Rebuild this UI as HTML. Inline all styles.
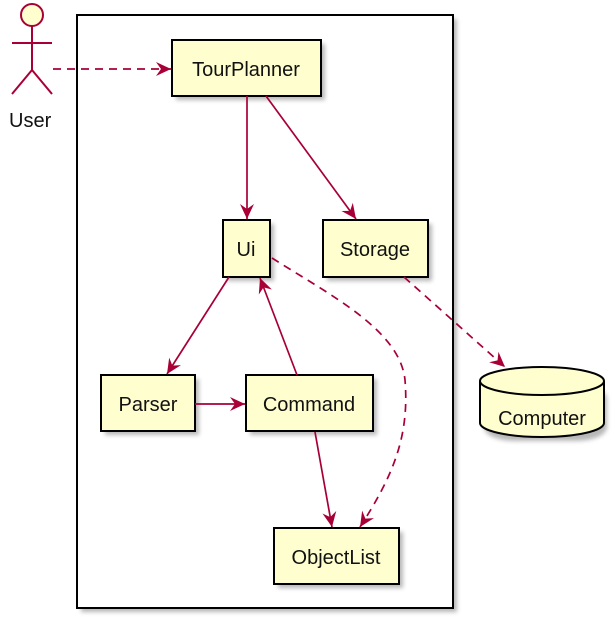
<!DOCTYPE html>
<html><head><meta charset="utf-8"><style>
html,body{margin:0;padding:0;background:#fff;width:613px;height:625px;overflow:hidden}
text{font-family:"Liberation Sans",sans-serif;font-size:20px;fill:#111}
</style></head><body>
<svg width="613" height="625" viewBox="0 0 613 625" xmlns="http://www.w3.org/2000/svg">
<defs>
<filter id="sh" x="-20%" y="-20%" width="150%" height="150%"><feGaussianBlur stdDeviation="2"/></filter>
<marker id="ar" markerWidth="18" markerHeight="16" refX="15" refY="7" orient="auto" markerUnits="userSpaceOnUse">
<path d="M0,0 L15,7 L0,14 L5,7 Z" fill="#A80036"/></marker>
</defs>
<rect x="81" y="19" width="376" height="593" fill="#999" filter="url(#sh)" opacity="0.7"/>
<rect x="77" y="15" width="376" height="593" fill="#fff" stroke="#000" stroke-width="2"/>
<g stroke="#A80036" stroke-width="2" fill="none">
<circle cx="32" cy="15" r="11" fill="#FEFECE"/>
<line x1="32" y1="26" x2="32" y2="70"/>
<line x1="12" y1="43" x2="52" y2="43"/>
<line x1="32" y1="70" x2="12" y2="94"/>
<line x1="32" y1="70" x2="52" y2="94"/>
</g>
<text x="9" y="127">User</text>
<g fill="#FEFECE" stroke="#000" stroke-width="2">
<g fill="#888" stroke="none" opacity="0.6" filter="url(#sh)">
<rect x="176" y="44" width="149" height="56"/><rect x="227" y="224" width="47" height="57"/>
<rect x="327" y="224" width="105" height="57"/><rect x="105" y="379" width="94" height="56"/>
<rect x="250" y="379" width="127" height="56"/><rect x="278" y="532" width="125" height="56"/>
<rect x="484" y="385" width="123" height="56" rx="30" ry="14"/>
</g>
<rect x="172" y="40" width="149" height="56"/>
<rect x="223" y="220" width="47" height="57"/>
<rect x="323" y="220" width="105" height="57"/>
<rect x="101" y="375" width="94" height="56"/>
<rect x="246" y="375" width="127" height="56"/>
<rect x="274" y="528" width="125" height="56"/>
<path d="M480,381 A62,14 0 0 1 604,381 L604,423 A62,14 0 0 1 480,423 Z"/>
<path d="M480,381 A62,14 0 0 0 604,381" fill="none"/>
</g>
<text x="246" y="76" text-anchor="middle">TourPlanner</text>
<text x="246" y="256" text-anchor="middle">Ui</text>
<text x="375" y="256" text-anchor="middle">Storage</text>
<text x="148" y="411" text-anchor="middle">Parser</text>
<text x="309" y="411" text-anchor="middle">Command</text>
<text x="336" y="564" text-anchor="middle">ObjectList</text>
<text x="542" y="425" text-anchor="middle">Computer</text>
<g stroke="#A80036" stroke-width="1.7" fill="none" marker-end="url(#ar)">
<line x1="53" y1="69" x2="171" y2="69" stroke-dasharray="8,6"/>
<line x1="247" y1="96" x2="247" y2="219"/>
<line x1="266" y1="96" x2="356" y2="219"/>
<line x1="229" y1="277" x2="167" y2="374"/>
<line x1="297" y1="375" x2="260" y2="278"/>
<line x1="195" y1="404" x2="245" y2="404"/>
<line x1="315" y1="432" x2="332" y2="527"/>
<line x1="404" y1="277" x2="505" y2="367" stroke-dasharray="8,6"/>
<path d="M272,258 C330,295 400,330 405,380 C410,440 390,480 360,527" stroke-dasharray="8,6"/>
</g>
</svg>
</body></html>
